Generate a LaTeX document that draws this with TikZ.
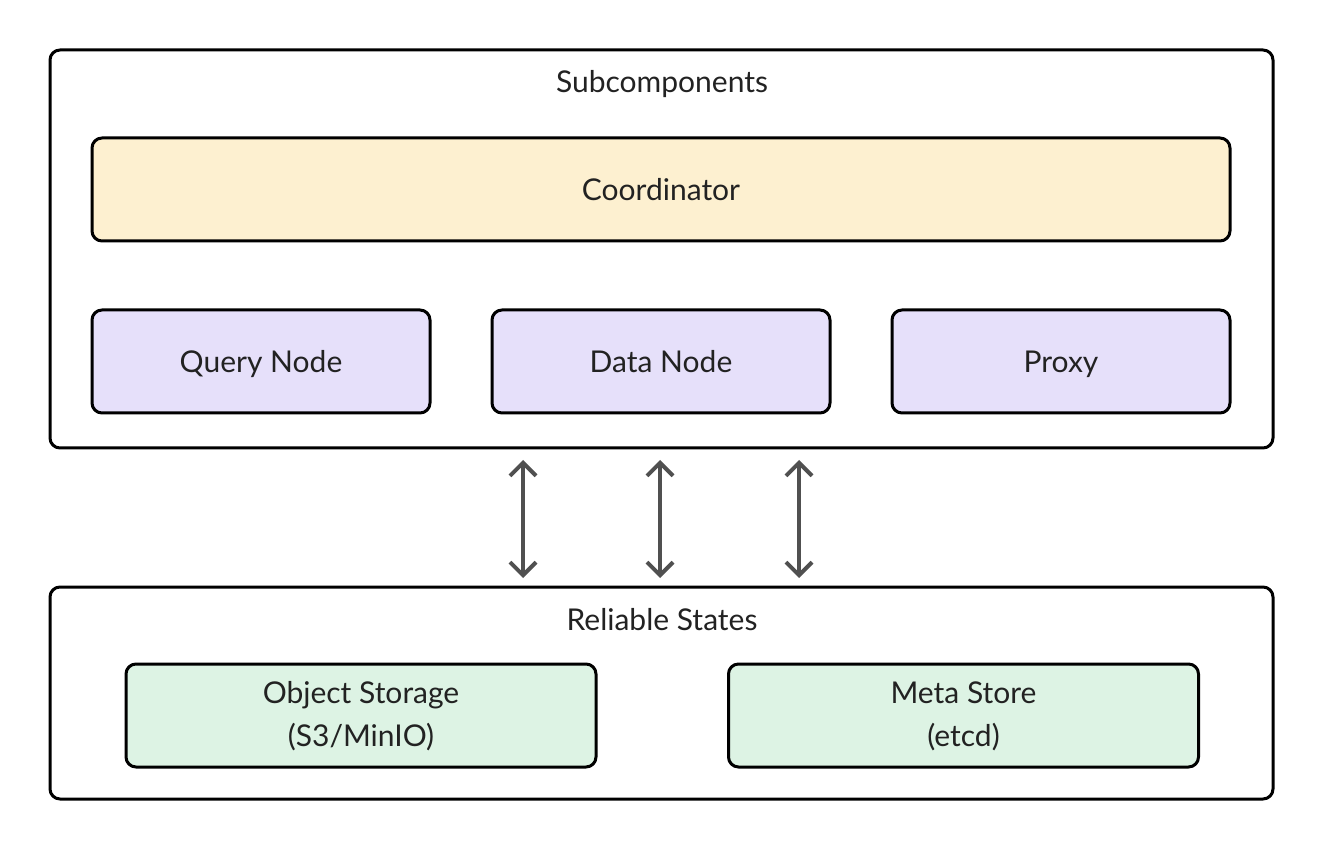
\documentclass[tikz,border=0pt]{standalone}
\usepackage{fontspec}
\setmainfont{Lato}
\usetikzlibrary{arrows.meta}
\definecolor{coordfill}{HTML}{FDF0D0}
\definecolor{nodefill}{HTML}{E6E0FA}
\definecolor{statefill}{HTML}{DDF3E4}
\definecolor{arrowgray}{HTML}{505050}
\definecolor{textdark}{HTML}{222222}
\begin{document}
\begin{tikzpicture}[x=0.5pt,y=-0.5pt,line cap=round,line join=round,
    group/.style={draw=black,line width=1.5pt,rounded corners=5pt,fill=white},
    part/.style={draw=black,line width=1.5pt,rounded corners=5pt,minimum height=51.5pt,
      text=textdark,font=\fontsize{15pt}{21.5pt}\selectfont,align=center},
    oneline/.style={text height=1.12em,text depth=0.05em},
    twoline/.style={text height=3.28em,text depth=0.2em},
    title/.style={text=textdark,font=\fontsize{15pt}{21.5pt}\selectfont,oneline},
    link/.style={draw=arrowgray,line width=2pt,
      {Straight Barb[length=6.5pt,width=13pt]}-{Straight Barb[length=6.5pt,width=13pt]}}]
  \useasboundingbox (0,0) rectangle (1324,850);
  % subcomponents
  \draw[group] (50,50) rectangle (1273,448);
  \node[title] (sub) at (662,82) {Subcomponents};
  \node[part,oneline,fill=coordfill,minimum width=569pt] (coord) at (661,189.5) {Coordinator};
  \node[part,oneline,fill=nodefill,minimum width=169pt] (query) at (261,361.5) {Query Node};
  \node[part,oneline,fill=nodefill,minimum width=169pt] (data) at (661,361.5) {Data Node};
  \node[part,oneline,fill=nodefill,minimum width=169pt] (proxy) at (1061,361.5) {Proxy};
  % reliable states
  \draw[group] (50,587) rectangle (1273,799);
  \node[title] (rel) at (662,620) {Reliable States};
  \node[part,twoline,fill=statefill,minimum width=235pt] (obj) at (361,715.5) {Object Storage\\(S3/MinIO)};
  \node[part,twoline,fill=statefill,minimum width=235pt] (meta) at (963.5,715.5) {Meta Store\\(etcd)};
  % links between the two layers
  \foreach \i/\x in {1/523,2/660,3/799} {
    \coordinate (up\i) at (\x,460);
    \coordinate (down\i) at (\x,578);
    \draw[link] (up\i) -- (down\i);
  }
\end{tikzpicture}
\end{document}
